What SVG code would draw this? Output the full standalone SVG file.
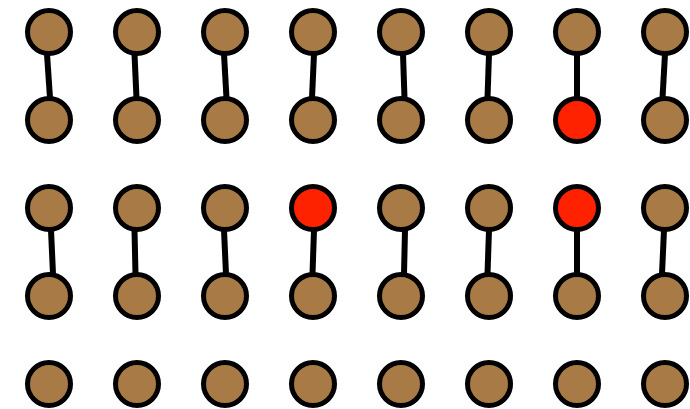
<svg xmlns="http://www.w3.org/2000/svg" width="690" height="409" viewBox="0 0 690 409">
<style>
.n{fill:#A87A45;stroke:#000;stroke-width:5}
.r{fill:#FF2200;stroke:#000;stroke-width:5}
.e{stroke:#000;stroke-width:6;stroke-linecap:butt}
</style>
<rect width="690" height="409" fill="#fff"/>
<g id="connectors">
<line class="e" x1="47" y1="54" x2="50" y2="98"/>
<line class="e" x1="134.5" y1="54" x2="136.5" y2="98"/>
<line class="e" x1="224" y1="54" x2="226.5" y2="98"/>
<line class="e" x1="314" y1="54" x2="312" y2="98"/>
<line class="e" x1="403" y1="54" x2="404.5" y2="98"/>
<line class="e" x1="489" y1="54" x2="487.5" y2="98"/>
<line class="e" x1="577" y1="54" x2="577" y2="98"/>
<line class="e" x1="665" y1="54" x2="662.5" y2="98"/>
<line class="e" x1="51" y1="230" x2="53" y2="274"/>
<line class="e" x1="134.5" y1="230" x2="135.5" y2="274"/>
<line class="e" x1="224" y1="230" x2="226" y2="274"/>
<line class="e" x1="314" y1="230" x2="312.5" y2="274"/>
<line class="e" x1="405" y1="230" x2="404" y2="274"/>
<line class="e" x1="489" y1="230" x2="487.5" y2="274"/>
<line class="e" x1="577" y1="230" x2="577" y2="274"/>
<line class="e" x1="664" y1="230" x2="662" y2="274"/>
</g>
<g id="n1"><circle class="n" cx="49" cy="32" r="21.5"/></g>
<g id="n2"><circle class="n" cx="137" cy="32" r="21.5"/></g>
<g id="n3"><circle class="n" cx="225" cy="32" r="21.5"/></g>
<g id="n4"><circle class="n" cx="313" cy="32" r="21.5"/></g>
<g id="n5"><circle class="n" cx="401" cy="32" r="21.5"/></g>
<g id="n6"><circle class="n" cx="489" cy="32" r="21.5"/></g>
<g id="n7"><circle class="n" cx="577" cy="32" r="21.5"/></g>
<g id="n8"><circle class="n" cx="665" cy="32" r="21.5"/></g>
<g id="n9"><circle class="n" cx="49" cy="120" r="21.5"/></g>
<g id="n10"><circle class="n" cx="137" cy="120" r="21.5"/></g>
<g id="n11"><circle class="n" cx="225" cy="120" r="21.5"/></g>
<g id="n12"><circle class="n" cx="313" cy="120" r="21.5"/></g>
<g id="n13"><circle class="n" cx="401" cy="120" r="21.5"/></g>
<g id="n14"><circle class="n" cx="489" cy="120" r="21.5"/></g>
<g id="n15"><circle class="r" cx="577" cy="120" r="21.5"/></g>
<g id="n16"><circle class="n" cx="665" cy="120" r="21.5"/></g>
<g id="n17"><circle class="n" cx="49" cy="208" r="21.5"/></g>
<g id="n18"><circle class="n" cx="137" cy="208" r="21.5"/></g>
<g id="n19"><circle class="n" cx="225" cy="208" r="21.5"/></g>
<g id="n20"><circle class="r" cx="313" cy="208" r="21.5"/></g>
<g id="n21"><circle class="n" cx="401" cy="208" r="21.5"/></g>
<g id="n22"><circle class="n" cx="489" cy="208" r="21.5"/></g>
<g id="n23"><circle class="r" cx="577" cy="208" r="21.5"/></g>
<g id="n24"><circle class="n" cx="665" cy="208" r="21.5"/></g>
<g id="n25"><circle class="n" cx="49" cy="296" r="21.5"/></g>
<g id="n26"><circle class="n" cx="137" cy="296" r="21.5"/></g>
<g id="n27"><circle class="n" cx="225" cy="296" r="21.5"/></g>
<g id="n28"><circle class="n" cx="313" cy="296" r="21.5"/></g>
<g id="n29"><circle class="n" cx="401" cy="296" r="21.5"/></g>
<g id="n30"><circle class="n" cx="489" cy="296" r="21.5"/></g>
<g id="n31"><circle class="n" cx="577" cy="296" r="21.5"/></g>
<g id="n32"><circle class="n" cx="665" cy="296" r="21.5"/></g>
<g id="n33"><circle class="n" cx="49" cy="384" r="21.5"/></g>
<g id="n34"><circle class="n" cx="137" cy="384" r="21.5"/></g>
<g id="n35"><circle class="n" cx="225" cy="384" r="21.5"/></g>
<g id="n36"><circle class="n" cx="313" cy="384" r="21.5"/></g>
<g id="n37"><circle class="n" cx="401" cy="384" r="21.5"/></g>
<g id="n38"><circle class="n" cx="489" cy="384" r="21.5"/></g>
<g id="n39"><circle class="n" cx="577" cy="384" r="21.5"/></g>
<g id="n40"><circle class="n" cx="665" cy="384" r="21.5"/></g>
</svg>
